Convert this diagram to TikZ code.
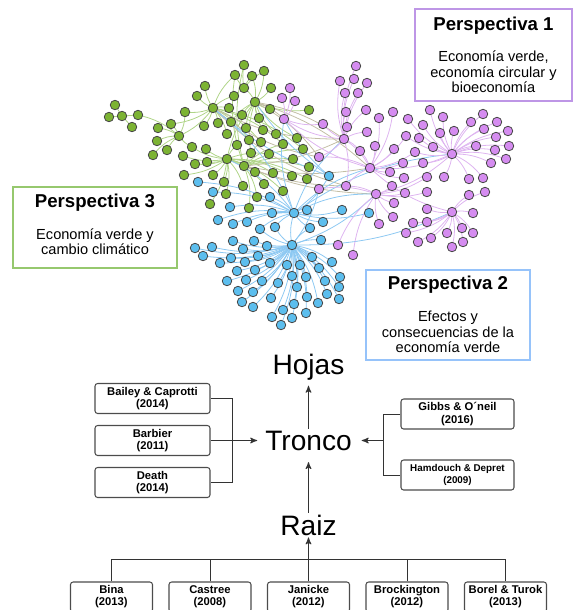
\documentclass[tikz,border=0pt]{standalone}
\usepackage{fontspec}
\setmainfont{Liberation Sans}
\usetikzlibrary{arrows,positioning}

\definecolor{gdot}{RGB}{124,179,51}
\definecolor{pdot}{RGB}{213,140,240}
\definecolor{bdot}{RGB}{92,190,238}
\definecolor{dotline}{RGB}{70,70,70}
\definecolor{gline}{RGB}{175,212,135}
\definecolor{pline}{RGB}{222,180,240}
\definecolor{bline}{RGB}{140,200,242}
\definecolor{mline}{RGB}{195,190,165}
\definecolor{gbox}{RGB}{150,200,110}
\definecolor{pbox}{RGB}{190,150,230}
\definecolor{bbox}{RGB}{150,195,250}

\begin{document}
\begin{tikzpicture}[x=0.02cm,y=-0.02cm,>=stealth',
  ge/.style={gline,line width=0.45pt},
  pe/.style={pline,line width=0.45pt},
  be/.style={bline,line width=0.45pt},
  me/.style={mline,line width=0.45pt},
  dot/.style={fill=#1,draw=dotline,line width=0.45pt},
  perbox/.style={draw=#1,line width=0.8pt,fill=white,minimum width=3.28cm},
  pertitle/.style={font=\fontsize{10.6}{12}\selectfont\bfseries},
  pertext/.style={align=center,font=\fontsize{8.3}{8.8}\selectfont},
  refbox/.style={draw=black!70,rounded corners=1.5pt,line width=0.6pt,minimum height=0.6cm,
    align=center,inner sep=1pt,font=\fontsize{6.4}{6.9}\selectfont\bfseries},
  level/.style={font=\fontsize{16}{18}\selectfont,inner sep=1pt},
  link/.style={black!80,line width=0.5pt}]

\useasboundingbox (0,0) rectangle (573,610);

% network: hubs
\coordinate (g1) at (213,108); \coordinate (g2) at (255,102); \coordinate (g3) at (227,159);
\coordinate (g4) at (179,136); \coordinate (g5) at (244,166); \coordinate (g6) at (244,88);
\coordinate (b1) at (292,245); \coordinate (b2) at (294,213); \coordinate (b3) at (329,176);
\coordinate (p1) at (344,139); \coordinate (p2) at (370,168); \coordinate (p3) at (452,154);
\coordinate (p4) at (376,194); \coordinate (p5) at (452,212); \coordinate (p6) at (284,119);

% edges
\foreach \x/\y in {205/86,197/96,185/112,171/124,204/126,218/123,229/108,234/96,179/136,227/134,249/140,261/142,283/144,303/149,235/75}
  \draw[ge] (g1) to[bend left=14] (\x,\y);
\foreach \x/\y in {244/88,271/88,242/115,259/118,270/109,246/128,263/130,276/134,297/138,231/122,251/153,309/110,227/159,252/76,264/71}
  \draw[ge] (g2) to[bend right=14] (\x,\y);
\foreach \x/\y in {207/162,195/164,206/149,192/147,237/145,213/175,224/182,226/194,243/186,255/172,273/173,292/176,307/179,264/184,283/191,184/175,210/204,269/154,183/156}
  \draw[ge] (g3) to[bend left=14] (\x,\y);
\foreach \x/\y in {158/128,157/141,167/150,153/155,192/147,171/124,138/115,185/112}
  \draw[ge] (g4) to[bend right=14] (\x,\y);
\foreach \x/\y in {249/208,257/197,293/159,309/167,303/149,261/142,283/144,244/65,235/75}
  \draw[ge] (g5) to[bend left=14] (\x,\y);
\foreach \x/\y in {244/65,235/75,252/76,264/71}
  \draw[ge] (g6) to[bend left=10] (\x,\y);
\foreach \x/\y in {115/105,109/117,138/115,132/127}
  \draw[ge] (122,116) -- (\x,\y);
\foreach \x/\y in {284/119,344/139,370/168,319/157}
  \draw[me] (g2) to[bend left=12] (\x,\y);
\foreach \x/\y in {344/139,376/194,370/168,346/186}
  \draw[me] (g5) to[bend right=10] (\x,\y);
\foreach \x/\y in {319/157,346/186,344/139}
  \draw[me] (g1) to[bend right=14] (\x,\y);
\foreach \x/\y in {233/241,254/241,267/246,321/240,195/248,212/247,203/256,243/249,258/256,220/263,231/258,245/262,270/263,287/265,300/265,312/257,332/262,237/271,255/270,319/268,227/281,246/280,262/281,278/283,292/276,306/277,325/281,340/277,238/291,253/292,297/287,339/287,327/294,271/298,307/297,242/302,294/304,318/303,339/299,253/307,283/310,272/317,292/318,306/313,281/325,294/213,260/229,275/227,310/228}
  \draw[be] (b1) to[bend left=14] (\x,\y);
\foreach \x/\y in {270/197,307/210,272/213,247/222,275/227,310/228,323/222,342/210,260/229,230/207,233/224,218/220,329/176,369/213,198/182,213/192,227/159,213/108}
  \draw[be] (b2) to[bend right=14] (\x,\y);
\foreach \x/\y in {284/119,344/139,370/168,376/194,452/154}
  \draw[be] (b2) to[bend left=14] (\x,\y);
\foreach \x/\y in {376/194,452/212,319/189}
  \draw[be] (b1) to[bend right=12] (\x,\y);
\foreach \x/\y in {284/119,213/108,255/102}
  \draw[be] (b3) to[bend left=10] (\x,\y);
\foreach \x/\y in {346/112,345/93,358/93,340/81,323/124,347/127,366/110,360/151,367/132,319/157,346/186,354/79,356/66,367/83}
  \draw[pe] (p1) to[bend left=14] (\x,\y);
\foreach \x/\y in {375/146,394/149,390/172,404/178,403/163,393/112,379/118,346/186,360/151,319/157,415/152,406/136,344/139}
  \draw[pe] (p2) to[bend right=14] (\x,\y);
\foreach \x/\y in {443/117,430/110,454/131,440/133,471/122,483/114,484/129,497/122,508/131,476/146,496/137,509/146,495/150,506/159,491/163,433/147,415/152,423/163,444/177,469/179,483/178,408/119,423/125,419/138,406/136,370/168}
  \draw[pe] (p3) to[bend left=14] (\x,\y);
\foreach \x/\y in {392/186,405/193,427/192,394/203,393/217,379/224,427/177,346/186,319/189,353/255,338/245,452/154}
  \draw[pe] (p4) to[bend right=14] (\x,\y);
\foreach \x/\y in {427/209,413/223,427/222,406/233,418/242,431/238,447/233,462/228,473/233,463/242,452/247,469/195,485/192,473/213,370/168}
  \draw[pe] (p5) to[bend left=14] (\x,\y);
\foreach \x/\y in {290/88,282/98,295/101,323/124,344/139,370/168}
  \draw[pe] (p6) to[bend right=14] (\x,\y);

% dots
\foreach \x/\y in {115/105,109/117,122/116,138/115,132/127,244/65,235/75,252/76,264/71,244/88,271/88,205/86,197/96,234/96,255/102,
  185/112,213/108,229/108,242/115,259/118,270/109,171/124,158/128,204/126,218/123,231/122,246/128,263/130,276/134,
  179/136,157/141,227/134,249/140,261/142,297/138,167/150,153/155,192/147,206/149,237/145,283/144,303/149,
  183/156,251/153,269/154,227/159,207/162,195/164,293/159,244/166,309/167,
  184/175,213/175,255/172,273/173,292/176,307/179,224/182,243/186,264/184,283/191,226/194,257/197,210/204,249/208,309/110}
  \path[dot=gdot] (\x,\y) circle (0.95mm);
\foreach \x/\y in {356/66,340/81,354/79,367/83,345/93,358/93,290/88,282/98,295/101,
  346/112,366/110,393/112,430/110,323/124,347/127,379/118,408/119,443/117,483/114,471/122,497/122,423/125,454/131,484/129,508/131,284/119,
  344/139,367/132,406/136,419/138,440/133,496/137,509/146,360/151,375/146,394/149,415/152,433/147,452/154,476/146,495/150,506/159,
  319/157,403/163,423/163,491/163,370/168,390/172,404/178,427/177,444/177,469/179,483/178,
  319/189,346/186,376/194,392/186,405/193,427/192,469/195,485/192,394/203,427/209,452/212,473/213,
  379/224,393/217,413/223,427/222,406/233,418/242,431/238,447/233,462/228,473/233,463/242,452/247,338/245,353/255}
  \path[dot=pdot] (\x,\y) circle (0.95mm);
\foreach \x/\y in {198/182,213/192,329/176,270/197,230/207,218/220,233/224,247/222,272/213,294/213,307/210,342/210,369/213,323/222,260/229,275/227,310/228,
  233/241,254/241,267/246,292/245,321/240,195/248,212/247,203/256,243/249,258/256,220/263,231/258,245/262,270/263,287/265,300/265,312/257,332/262,
  237/271,255/270,319/268,227/281,246/280,262/281,278/283,292/276,306/277,325/281,340/277,238/291,253/292,297/287,339/287,327/294,271/298,307/297,
  242/302,294/304,318/303,339/299,253/307,283/310,272/317,292/318,306/313,281/325}
  \path[dot=bdot] (\x,\y) circle (0.95mm);

% perspectives
\node[perbox=pbox,minimum width=3.14cm,minimum height=1.84cm] (P1) at (493.5,55) {};
\node[pertitle] (P1t) at (493.5,26) {Perspectiva 1};
\node[pertext] (P1x) at (493.5,72) {Economía verde,\\economía circular y\\bioeconomía};

\node[perbox=gbox,minimum height=1.62cm] (P3) at (95,227.5) {};
\node[pertitle] (P3t) at (95,203) {Perspectiva 3};
\node[pertext] (P3x) at (95,241.5) {Economía verde y\\cambio climático};

\node[perbox=bbox,minimum height=1.8cm] (P2) at (448,315) {};
\node[pertitle] (P2t) at (448,285) {Perspectiva 2};
\node[pertext] (P2x) at (448,332) {Efectos y\\consecuencias de la\\economía verde};

% tree
\node[level] (hojas) at (308.5,367) {Hojas};
\node[level] (tronco) at (308.5,440.5) {Tronco};
\node[level] (raiz) at (308.5,525) {Raiz};

\foreach \name/\yr [count=\n] in {Bailey \& Caprotti/2014, Barbier/2011, Death/2014}
  \node[refbox,minimum width=2.3cm] (L\n) at (152.5,{356.5+42*\n}) {\name\\(\yr)};
\node[refbox,minimum width=2.26cm] (E1) at (457.5,414) {Gibbs \& O´neil\\(2016)};
\node[refbox,minimum width=2.26cm,font=\fontsize{5.6}{6.4}\selectfont\bfseries] (E2) at (457.5,475) {Hamdouch \& Depret\\(2009)};
\foreach \name/\yr [count=\n] in {Bina/2013, Castree/2008, Janicke/2012, Brockington/2012, Borel \& Turok/2013}
  \node[refbox,minimum width=1.64cm] (R\n) at ({13+98.5*\n},597) {\name\\(\yr)};

\coordinate (jl) at (232.5,440.5);
\coordinate (jr) at (383.5,440.5);
\coordinate (bus) at (308.5,559.5);

\draw[link,->,shorten >=2pt] (tronco) -- (hojas);
\draw[link,->,shorten >=5.5pt] (raiz) -- (tronco);
\draw[link] (L1.east) -| (jl) |- (L3.east);
\draw[link,->,shorten >=3.4pt] (L2.east) -- (tronco);
\draw[link] (E1.west) -| (jr) |- (E2.west);
\draw[link,->,shorten >=4.5pt] (jr) -- (tronco);
\draw[link] (R1.north) |- (bus) -| (R5.north);
\draw[link] (R2.north) -- (R2.north |- bus);
\draw[link] (R4.north) -- (R4.north |- bus);
\draw[link,->] (R3.north) -- (raiz);
\end{tikzpicture}
\end{document}
